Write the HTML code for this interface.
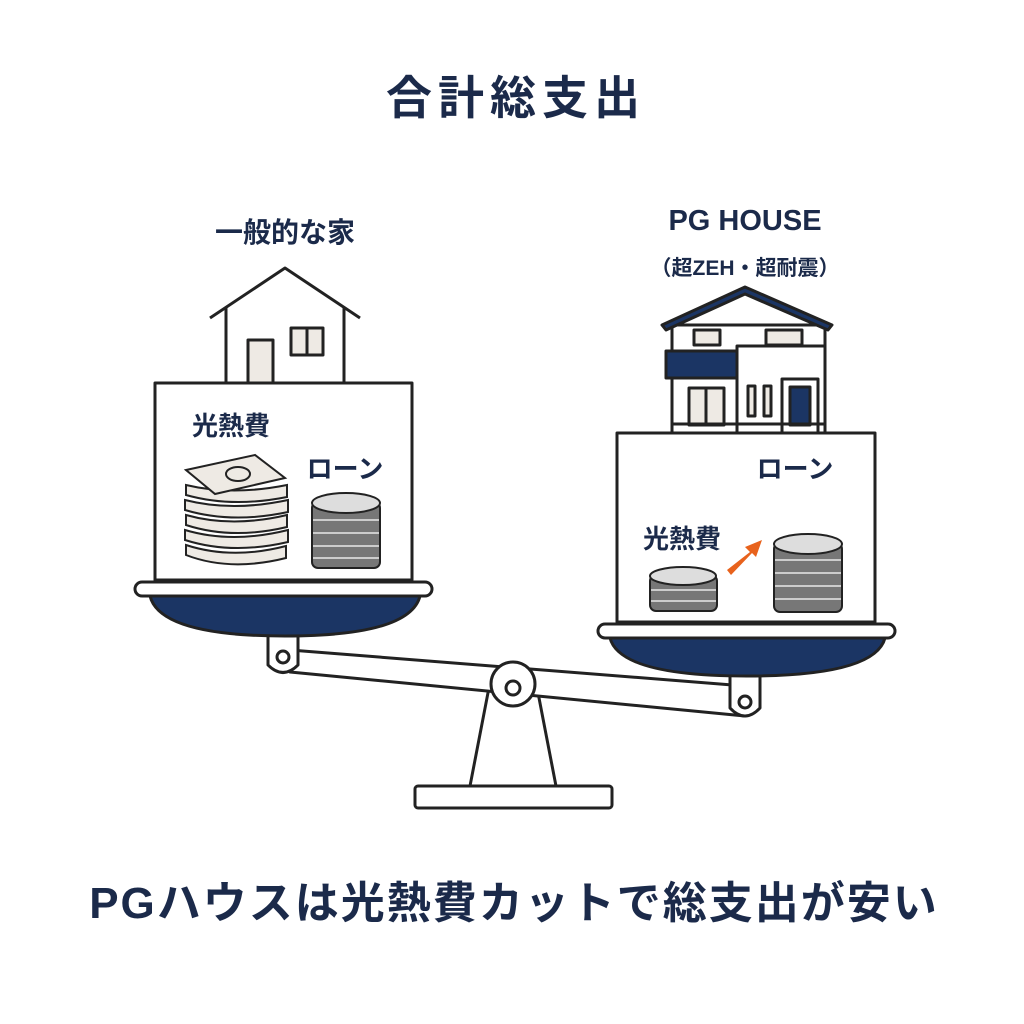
<!DOCTYPE html>
<html><head><meta charset="utf-8"><style>
html,body{margin:0;padding:0;background:#fff}
svg{display:block}
text{font-family:"Liberation Sans","Noto Sans CJK JP",sans-serif;fill:#1b2a4a;font-weight:bold}
</style></head><body>
<svg width="1024" height="1024" viewBox="0 0 1024 1024" xmlns="http://www.w3.org/2000/svg">
<rect width="1024" height="1024" fill="#fff"/>
<text x="516" y="114" font-size="46" text-anchor="middle" letter-spacing="6">合計総支出</text>
<text x="285" y="242" font-size="28" text-anchor="middle" font-weight="normal">一般的な家</text>
<text x="745" y="230" font-size="29" text-anchor="middle" font-weight="normal">PG HOUSE</text>
<text x="745" y="275" font-size="21" text-anchor="middle" font-weight="normal">（超ZEH・超耐震）</text>

<g stroke="#222" stroke-width="3" fill="none" stroke-linejoin="round">
<path d="M492,672 L470,786 L556,786 L534,672 Z" fill="#fff"/>
<rect x="415" y="786" width="197" height="22" rx="3" fill="#fff"/>
<path d="M290,650 L745,686 L745,716 L290,672 Z" fill="#fff"/>
<circle cx="513" cy="684" r="22" fill="#fff"/>
<circle cx="513" cy="688" r="7" fill="#fff"/>
<path d="M268,632 L268,665 Q283,680 298,665 L298,632" fill="#fff"/>
<circle cx="283" cy="657" r="6"/>
<path d="M730,672 L730,708 Q745,724 760,708 L760,672" fill="#fff"/>
<circle cx="745" cy="702" r="6"/>

<path d="M150,596 Q160,636 285,636 Q410,636 420,596 Z" fill="#1b3564"/>
<rect x="135" y="582" width="297" height="14" rx="7" fill="#fff"/>
<rect x="155" y="383" width="257" height="197" fill="#fff"/>
<path d="M210,318 L285,268 L360,318"/>
<path d="M226,308 L226,383 M344,308 L344,383"/>
<rect x="248" y="340" width="25" height="43" fill="#eeeae4"/>
<rect x="291" y="328" width="32" height="27" fill="#eeeae4"/>
<line x1="307" y1="328" x2="307" y2="355"/>

<path d="M610,638 Q620,676 747,676 Q875,676 885,638 Z" fill="#1b3564"/>
<rect x="598" y="624" width="297" height="14" rx="7" fill="#fff"/>
<rect x="617" y="433" width="258" height="189" fill="#fff"/>
<rect x="672" y="325" width="153" height="108" fill="#fff"/>
<path d="M662,325 L745,287 L832,325 L828,330 L745,294 L666,330 Z" fill="#1b3564"/>
<rect x="666" y="351" width="71" height="27" fill="#1b3564"/>
<rect x="737" y="346" width="88" height="87" fill="#fff"/>
<rect x="694" y="330" width="26" height="15" fill="#eeeae4"/>
<rect x="766" y="330" width="36" height="15" fill="#eeeae4"/>
<rect x="689" y="388" width="35" height="37" fill="#eeeae4"/>
<line x1="706" y1="388" x2="706" y2="425"/>
<rect x="748" y="386" width="7" height="30" fill="#eeeae4"/>
<rect x="764" y="386" width="7" height="30" fill="#eeeae4"/>
<rect x="782" y="379" width="36" height="54"/>
<rect x="790" y="387" width="20" height="38" fill="#1b3564"/>
<line x1="672" y1="424" x2="825" y2="424"/>
</g>

<g stroke="#222" stroke-width="2" fill="#eeeae4">
<path d="M186,555 Q230,572 286,558 L286,546 Q232,560 186,545 Z"/>
<path d="M185,540 Q232,555 288,542 L288,530 Q232,544 185,530 Z"/>
<path d="M186,525 Q232,540 287,527 L287,515 Q232,528 186,515 Z"/>
<path d="M185,510 Q232,524 288,512 L288,500 Q232,512 185,500 Z"/>
<path d="M186,495 Q232,508 287,497 L287,485 Q232,496 186,485 Z"/>
<path d="M186,470 L255,455 L285,478 L215,494 Z"/>
<ellipse cx="238" cy="474" rx="12" ry="7" fill="none"/>
</g>
<g stroke="#222" stroke-width="2">
<rect x="312" y="502" width="68" height="66" rx="6" fill="#777"/>
<g fill="none" stroke="#ccc" stroke-width="2"><path d="M313,520 H379 M313,533 H379 M313,546 H379 M313,558 H379"/></g>
<ellipse cx="346" cy="503" rx="34" ry="10" fill="#ddd"/>
<rect x="650" y="575" width="67" height="36" rx="6" fill="#777"/>
<g fill="none" stroke="#ccc" stroke-width="2"><path d="M651,590 H716 M651,601 H716"/></g>
<ellipse cx="683" cy="576" rx="33" ry="9" fill="#ddd"/>
<rect x="774" y="543" width="68" height="69" rx="6" fill="#777"/>
<g fill="none" stroke="#ccc" stroke-width="2"><path d="M775,560 H841 M775,573 H841 M775,586 H841 M775,599 H841"/></g>
<ellipse cx="808" cy="544" rx="34" ry="10" fill="#ddd"/>
</g>
<path d="M727,570 L750,552 L745,547 L762,540 L756,557 L752,553 L731,575 Z" fill="#e8621c"/>

<text x="231" y="435" font-size="26" text-anchor="middle">光熱費</text>
<text x="345" y="478" font-size="26" text-anchor="middle">ローン</text>
<text x="795" y="478" font-size="26" text-anchor="middle">ローン</text>
<text x="682" y="548" font-size="26" text-anchor="middle">光熱費</text>

<text x="514" y="918" font-size="44" text-anchor="middle" letter-spacing="2">PGハウスは光熱費カットで総支出が安い</text>
</svg>
</body></html>
